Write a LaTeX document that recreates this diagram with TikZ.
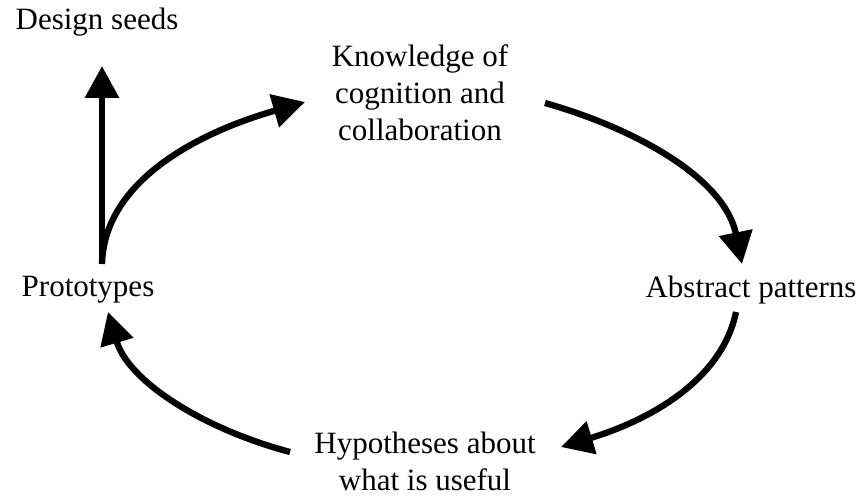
\documentclass[tikz,border=0pt]{standalone}
\usepackage{fontspec}
\setmainfont{Liberation Serif}
\usetikzlibrary{arrows.meta}
\begin{document}
\begin{tikzpicture}[x=1pt,y=-1pt,
  lbl/.style={font=\fontsize{31}{37}\selectfont, align=center, inner sep=0pt},
  flow/.style={line width=6.3pt, -{Triangle[length=32pt,width=33pt]}}]
\useasboundingbox (0,0) rectangle (864,497);
\node[lbl] (seeds) at (97,22) {Design seeds};
\node[lbl] (know) at (420,93) {Knowledge of\\cognition and\\collaboration};
\node[lbl] (proto) at (88,290) {Prototypes};
\node[lbl] (abs) at (751,290) {Abstract patterns};
\node[lbl] (hyp) at (425,461) {Hypotheses about\\what is useful};
\coordinate (p0) at (102,264);
\coordinate (s1) at (102,66);
\coordinate (k1) at (305,102);
\coordinate (k0) at (545,103);
\coordinate (a1) at (742,264);
\coordinate (a0) at (736,312);
\coordinate (h1) at (561,447);
\coordinate (h0) at (290,452);
\coordinate (pp) at (108,312);
\draw[flow] (p0) -- (s1);
\draw[flow] (p0) .. controls (104,185) and (190,135) .. (k1);
\draw[flow] (k0) .. controls (640,130) and (725,180) .. (a1);
\draw[flow] (a0) .. controls (722,380) and (650,420) .. (h1);
\draw[flow] (h0) .. controls (200,428) and (128,380) .. (pp);
\end{tikzpicture}
\end{document}
